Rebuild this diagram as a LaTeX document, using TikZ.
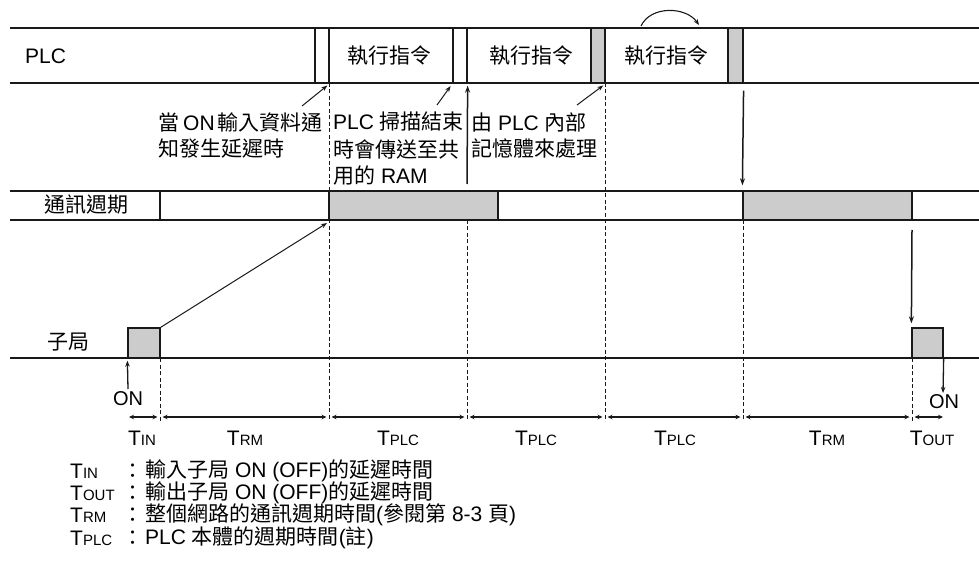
\documentclass[tikz,border=0pt]{standalone}
\usepackage{fontspec}
\setmainfont{Liberation Sans}
\newfontfamily\cjk{Noto Sans CJK TC}
\usetikzlibrary{arrows.meta}
\definecolor{boxgray}{RGB}{204,204,204}
\definecolor{ink}{RGB}{25,25,25}
\newcommand\Tsub[1]{T{\fontsize{15}{15}\selectfont #1}}
\begin{document}
\begin{tikzpicture}[x=1pt,y=-1pt,
  band/.style={line width=1.5pt, draw=ink},
  stripbox/.style={line width=1.3pt, draw=ink, inner sep=0pt, minimum height=55pt, minimum width=14pt},
  graybox/.style={line width=1.3pt, draw=ink, fill=boxgray, inner sep=0pt},
  dashline/.style={line width=1pt, draw=ink, dash pattern=on 4pt off 2.5pt},
  thinarrow/.style={line width=1pt, draw=ink, -{Stealth[length=6pt,width=4.5pt]}},
  bigarrow/.style={line width=1.5pt, draw=ink, -{Stealth[length=7pt,width=5pt]}},
  dimarrow/.style={line width=1.2pt, draw=ink, {Stealth[length=5pt,width=4.5pt]}-{Stealth[length=5pt,width=4.5pt]}, shorten <=2.5pt, shorten >=2.5pt},
  txt/.style={font=\fontsize{21}{21}\selectfont, inner sep=0pt, text=black},
  tlabel/.style={font=\fontsize{21}{21}\selectfont, inner sep=0pt, text=black},
]
\useasboundingbox[fill=white] (0,0) rectangle (979,577);

% ---------- PLC band ----------
\draw[band] (10,28) -- (979,28);
\draw[band] (10,83) -- (979,83);
\node[txt, anchor=west] (plc) at (25,56) {PLC};
\node[stripbox, fill=white] (s1) at (322,55.5) {};
\node[stripbox, fill=white] (s2) at (460,55.5) {};
\node[stripbox, fill=boxgray] (s3) at (598,55.5) {};
\node[stripbox, fill=boxgray, minimum width=15pt] (s4) at (735.5,55.5) {};
\node[txt] (e1) at (389,56) {\cjk 執行指令};
\node[txt] (e2) at (531,56) {\cjk 執行指令};
\node[txt] (e3) at (666,56) {\cjk 執行指令};
\coordinate (ca) at (641,26);
\coordinate (cb) at (699,25);
\draw[line width=1.1pt, draw=ink, -{Stealth[length=6pt,width=4.5pt]}] (ca) to[out=65,in=125] (cb);

% ---------- communication band ----------
\draw[band] (10,191) -- (979,191);
\draw[band] (10,220) -- (979,220);
\coordinate (cd1) at (160,191);
\coordinate (cd2) at (160,220);
\draw[band] (cd1) -- (cd2);
\node[txt] (comm) at (86,205) {\cjk 通訊週期};
\node[graybox, minimum width=169pt, minimum height=29pt] (g1) at (413.5,205.5) {};
\node[graybox, minimum width=169pt, minimum height=29pt] (g2) at (827.5,205.5) {};

% ---------- slave station line ----------
\draw[band] (10,358) -- (979,358);
\node[txt] (sub) at (68,342) {\cjk 子局};
\node[graybox, minimum width=32pt, minimum height=30pt] (ib) at (144,343) {};
\node[graybox, minimum width=31pt, minimum height=30pt] (ob) at (927.5,343) {};

% ---------- dashed verticals ----------
\coordinate (v1t) at (160,358);  \coordinate (v1b) at (160,421);
\coordinate (v2t) at (329,83);   \coordinate (v2b) at (329,421);
\coordinate (v3t) at (467,220);  \coordinate (v3b) at (467,421);
\coordinate (v4t) at (605,83);   \coordinate (v4b) at (605,421);
\coordinate (v5t) at (743,220);  \coordinate (v5b) at (743,421);
\coordinate (v6t) at (912,358);  \coordinate (v6b) at (912,421);
\draw[dashline] (v1t) -- (v1b);
\draw[dashline] (v2t) -- (v2b);
\draw[dashline] (v3t) -- (v3b);
\draw[dashline] (v4t) -- (v4b);
\draw[dashline] (v5t) -- (v5b);
\draw[dashline] (v6t) -- (v6b);

% ---------- annotation texts ----------
\node[txt, anchor=west] (n1a) at (158,122) {{\cjk 當}\hspace{4pt}ON\hspace{3pt}{\cjk 輸入資料通}};
\node[txt, anchor=west] (n1b) at (158,149) {\cjk 知發生延遲時};
\node[txt, anchor=west] (n2a) at (333,122) {PLC {\cjk 掃描結束}};
\node[txt, anchor=west] (n2b) at (333,149) {\cjk 時會傳送至共};
\node[txt, anchor=west] (n2c) at (333,176) {{\cjk 用的} RAM};
\node[txt, anchor=west] (n3a) at (471,122) {{\cjk 由} PLC {\cjk 內部}};
\node[txt, anchor=west] (n3b) at (471,149) {\cjk 記憶體來處理};

% ---------- arrows ----------
\coordinate (a1) at (302,106);
\coordinate (a2) at (437,105);
\coordinate (a3) at (577,105);
\draw[thinarrow, shorten >=3pt] (a1) -- (s1.south east);
\draw[thinarrow, shorten >=3pt] (a2) -- (s2.south west);
\draw[thinarrow, shorten >=3pt] (a3) -- (s3.south east);
\coordinate (up1) at (467,184);
\draw[bigarrow, shorten >=2pt] (up1) -- (s2.south east);
\draw[bigarrow, shorten <=7pt, shorten >=5pt] (s4.south east) -- (g2.north west);
\coordinate (sl) at (327,223);
\draw[thinarrow] (ib.north east) -- (sl);
\coordinate (dn) at (912,230);
\draw[bigarrow, shorten >=4pt] (dn) -- (ob.north west);
\coordinate (onin) at (128,389);
\draw[line width=1.3pt, draw=ink, -{Stealth[length=6pt,width=4.5pt]}, shorten >=2pt] (onin) -- (ib.south west);
\coordinate (onout) at (943,393);
\draw[line width=1.3pt, draw=ink, -{Stealth[length=6pt,width=4.5pt]}] (ob.south east) -- (onout);
\node[txt, font=\fontsize{20}{20}\selectfont] (on1) at (128,399) {ON};
\node[txt, font=\fontsize{20}{20}\selectfont] (on2) at (944,402) {ON};

% ---------- dimension arrows ----------
\coordinate (d0) at (128,417); \coordinate (d1) at (160,417);
\coordinate (d2) at (329,417); \coordinate (d3) at (467,417);
\coordinate (d4) at (605,417); \coordinate (d5) at (743,417);
\coordinate (d6) at (912,417); \coordinate (d7) at (944,417);
\draw[dimarrow, shorten <=1pt] (d0) -- (d1);
\draw[dimarrow] (d1) -- (d2);
\draw[dimarrow] (d2) -- (d3);
\draw[dimarrow] (d3) -- (d4);
\draw[dimarrow] (d4) -- (d5);
\draw[dimarrow] (d5) -- (d6);
\draw[dimarrow, shorten >=1pt] (d6) -- (d7);
\node[tlabel] (t1) at (142,438) {\Tsub{IN}};
\node[tlabel] (t2) at (245,438) {\Tsub{RM}};
\node[tlabel] (t3) at (398,438) {\Tsub{PLC}};
\node[tlabel] (t4) at (536,438) {\Tsub{PLC}};
\node[tlabel] (t5) at (675,438) {\Tsub{PLC}};
\node[tlabel] (t6) at (827,438) {\Tsub{RM}};
\node[tlabel] (t7) at (932,438) {\Tsub{OUT}};

% ---------- legend ----------
\node[txt, anchor=west] (l1t) at (70,471) {\Tsub{IN}};
\node[txt, anchor=west] (l2t) at (70,493) {\Tsub{OUT}};
\node[txt, anchor=west] (l3t) at (70,515) {\Tsub{RM}};
\node[txt, anchor=west] (l4t) at (70,538) {\Tsub{PLC}};
\node[txt] (l1c) at (133,471) {\cjk ：};
\node[txt] (l2c) at (133,493) {\cjk ：};
\node[txt] (l3c) at (133,515) {\cjk ：};
\node[txt] (l4c) at (133,538) {\cjk ：};
\node[txt, anchor=west] (l1) at (145,471) {{\cjk 輸入子局} ON (OFF){\cjk 的延遲時間}};
\node[txt, anchor=west] (l2) at (145,493) {{\cjk 輸出子局} ON (OFF){\cjk 的延遲時間}};
\node[txt, anchor=west] (l3) at (145,515) {{\cjk 整個網路的通訊週期時間}({\cjk 參閱第} 8-3 {\cjk 頁})};
\node[txt, anchor=west] (l4) at (145,538) {PLC {\cjk 本體的週期時間}({\cjk 註})};
\end{tikzpicture}
\end{document}
